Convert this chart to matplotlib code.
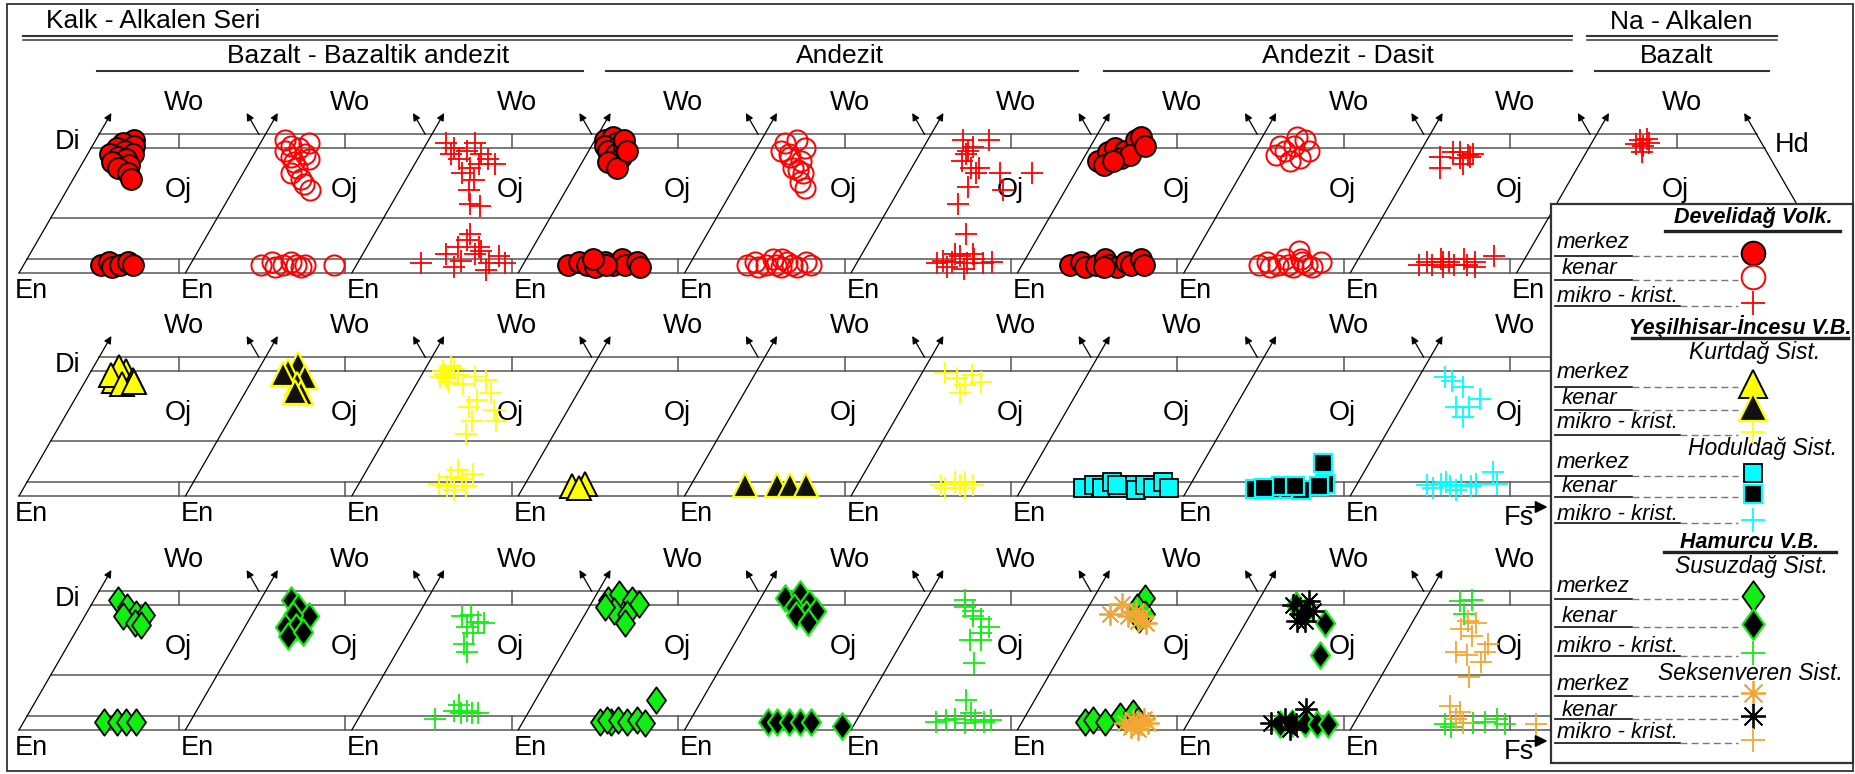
import numpy as np
import matplotlib.pyplot as plt
from matplotlib.path import Path
from matplotlib.patches import Rectangle

plt.rcParams['font.family'] = ['Liberation Sans', 'DejaVu Sans']

# ---------------------------------------------------------------------------
# pyroxene analyses as (Wo, Fs) mol %, one array per diagram
# row 0 : Develidag volcanics
dev_merkez_0 = [[48, 12], [47, 9], [46, 13], [45, 8], [44, 11], [43, 7], [43, 14], [42, 10], [41, 13], [40, 9],
                [39, 15], [38, 12], [36, 16], [34, 18],
                [3, 24], [4, 26], [2, 28], [3, 30], [4, 32], [3, 34]]
dev_kenar_1 = [[48, 7], [46, 10], [45, 13], [47, 15], [44, 9], [42, 12], [40, 14], [38, 16], [36, 15], [34, 19],
               [32, 21], [30, 24], [41, 18], [43, 16],
               [3, 22], [4, 25], [2, 27], [3, 29], [4, 31], [3, 33], [2, 35], [3, 36], [3, 45]]
dev_mikro_2 = [[45, 9.5], [44, 14], [47, 15], [43, 19], [41, 13], [38, 18], [39.5, 20], [36, 16.5], [41, 22],
               [43, 9.5], [33.5, 21.5], [30, 21.5], [25, 24.5], [24, 28], [39.5, 25], [47, 6],
               [3.5, 20], [7, 26], [9.5, 28.5], [12, 30], [7, 35], [8, 36.5], [4.5, 32], [3.5, 41], [6, 43],
               [2, 31], [14, 30], [1, 41.5], [3.5, 46], [9.5, 35]]
dev_merkez_3 = [[48, 3], [49, 5], [47, 7], [46, 4], [45, 8], [44, 6], [43, 9], [42, 11], [46, 10], [40, 8],
                [38, 12], [48, 9], [44, 12],
                [3, 14], [4, 17], [3, 20], [2, 23], [4, 25], [3, 28], [5, 30], [3, 32], [4, 35], [2, 37],
                [3, 26], [5, 21]]
dev_kenar_4 = [[47, 8], [48, 11], [45, 15], [42, 12], [40.5, 16], [38, 15], [36, 19], [30.5, 22.5], [33, 19.5],
               [44, 8], [43, 11], [37, 17],
               [3, 18], [4, 20], [2, 22], [3, 24], [5, 25], [3, 27], [2, 29], [4, 30], [3, 32], [2, 34],
               [4, 36], [3, 38], [5, 28]]
dev_mikro_5 = [[48, 11], [44, 14.5], [40.5, 14.5], [38, 18.5], [38, 21], [48, 19], [36, 28.5], [36, 38.5],
               [36, 21], [30, 32.5], [31, 21], [25, 21], [43, 14.5], [45.5, 15.5],
               [14, 29],
               [3.5, 25], [4.5, 26.5], [4, 29.5], [6, 31], [3.5, 34.5], [5, 36], [7, 34.5], [3.5, 39.5],
               [4, 42], [2, 29], [1.5, 34.5], [7, 29]]
dev_merkez_6 = [[40.5, 5], [43.5, 6.5], [45, 8], [44, 11.5], [48, 13], [49, 14], [41.5, 11.5], [42.5, 14],
                [39, 7.5], [40.5, 9.5], [46, 17],
                [3, 15], [4, 18], [2, 20], [3, 23], [5, 25], [3, 27], [2, 30], [4, 32], [3, 34], [5, 36],
                [3, 38], [2, 26]]
dev_kenar_7 = [[42.5, 7.5], [44, 9.5], [46, 11.5], [48, 14], [41.5, 15.5], [40.5, 13], [44, 17], [46, 7],
               [49, 11],
               [3, 22], [4, 24], [2, 26], [3, 28], [5, 29], [3, 31], [2, 33], [4, 35], [3, 37], [2, 39],
               [4, 41], [8, 32], [5, 34]]
dev_mikro_8 = [[42, 7], [43.5, 10.5], [42.5, 15.5], [42, 16.5], [39.5, 15.5], [38, 9], [41.5, 13.5], [43, 17],
               [43.5, 12.5],
               [3, 20], [4, 22], [3, 24], [5, 26], [2, 28], [4, 29], [3, 31], [5, 33], [3, 35], [4, 37],
               [2, 38], [6, 42], [4, 27]]
dev_mikro_9 = [[48, 14.5], [48.5, 16.5], [46, 16.5], [43.5, 17.5], [46.5, 14], [47, 18]]

# row 1 : Yesilhisar-Incesu (Kurtdag and Hoduldag systems)
kurt_merkez_0 = [[41.5, 9], [45, 11], [46.5, 8], [42, 14.5], [43.5, 7], [40.5, 12], [41, 15.5]]
kurt_kenar_1 = [[47.5, 11.5], [45, 9.5], [43, 16], [40.5, 14.5], [37, 17.5], [44, 8.5], [37.5, 15.5]]
kurt_mikro_2 = [[45, 6], [47, 7.5], [43.5, 11.5], [42.5, 8.5], [40.5, 14.5], [43, 17], [42, 21], [37, 25],
                [34.5, 22], [31, 29], [32, 20.5], [27, 24], [22.5, 24.5], [27, 31.5], [44, 7], [46, 9],
                [43, 6], [41, 10],
                [4.5, 25], [7, 27.5], [9.5, 28.5], [6, 31.5], [8, 34], [2, 31], [3.5, 28], [3.5, 34]]
kurt_merkez_3 = [[3.5, 15], [4.5, 18.5], [3, 17.5]]
kurt_kenar_4 = [[4, 17], [4, 27], [4, 31], [4, 36]]
kurt_mikro_5 = [[44.5, 7], [42.5, 12], [43.5, 16], [40, 15.5], [41, 20], [37, 15.5],
                [4, 26], [3, 28], [5, 30], [4, 32], [3, 34], [4, 36], [5, 33]]
hodul_merkez_6 = [[3, 19], [4, 22], [3, 25], [5, 27], [3, 30], [4, 33], [2, 36], [4, 38], [3, 41], [5, 43],
                  [3, 46], [4, 29]]
hodul_kenar_7 = [[2.5, 21], [2.5, 26.5], [2.5, 31.5], [2, 35.5], [12, 37.5], [4.5, 42], [3.5, 28.5],
                 [3, 23.5], [3.5, 33], [3.5, 40.5]]
hodul_mikro_8 = [[41.5, 11], [39.5, 15.5], [32, 17], [32, 21], [35, 23], [28.5, 21], [43, 8],
                 [4, 22], [4.5, 26], [3.5, 29.5], [4, 32.5], [3.5, 36], [4.5, 37], [8.5, 40.5], [4.5, 43.5],
                 [3, 24.5], [2, 32], [5, 27.5]]

# row 2 : Hamurcu (Susuzdag and Seksenveren systems)
susuz_merkez_0 = [[47, 7.5], [44.5, 11.5], [42, 15.5], [41.5, 18.5], [41, 12], [38.5, 17], [38, 19],
                  [3, 25], [3, 29], [3, 32], [3, 35]]
susuz_kenar_1 = [[47, 9.5], [44.5, 13], [41, 18], [41.5, 13], [37, 12.5], [37, 16], [34, 15], [35.5, 19]]
susuz_mikro_2 = [[41, 14], [41.5, 16.5], [39, 20], [37, 17.5], [35, 20.5], [31, 19.5], [28, 22], [38.5, 22],
                 [4, 24], [7, 28.5], [6, 31], [7, 32.5], [6, 34.5], [9, 29], [6, 36.5]]
susuz_merkez_3 = [[47, 4.5], [49, 7], [47, 12], [45.5, 15], [43, 8.5], [42, 13], [38.5, 14], [44.5, 5],
                  [3, 24], [3, 27.5], [3.5, 26], [3.5, 29.5], [3, 32.5], [3.5, 35.5], [2.5, 38.5], [11, 37.5]]
susuz_kenar_4 = [[47.5, 7.5], [49, 11.5], [46, 16], [44.5, 12], [42, 17], [43, 19.5], [41.5, 14], [39, 19],
                 [3, 24.5], [3, 27.5], [3, 31], [3, 34.5], [3, 38], [1.5, 48.5]]
susuz_mikro_5 = [[44.5, 13.5], [43, 16.5], [41, 17.5], [40, 20.5], [37, 24.5], [35, 23], [32.5, 21],
                 [32.5, 24.5], [24, 26.5], [47, 12],
                 [11, 30.5], [3, 25], [3.5, 28], [4, 30.5], [2.5, 34.5], [3.5, 37], [6, 34.5], [3.5, 42],
                 [3, 40]]
susuz_merkez_6 = [[47.5, 16], [44.5, 15], [42, 19], [40, 18],
                  [3, 19.5], [3.5, 22], [3, 26], [5, 29.5], [6, 33], [3.5, 36]]
seksen_merkez_6 = [[42, 8], [45.5, 10], [41, 14], [43, 15.5], [41, 18.5], [38.5, 21], [39.5, 18],
                   [2.5, 32.5], [3.5, 34.5], [2, 37.5], [4, 37.5], [2.5, 39.5], [1, 35], [0.5, 37.5]]
susuz_kenar_7 = [[38.5, 25], [27, 29], [45, 12.5], [42.5, 16.5],
                 [2, 29], [2.5, 32.5], [2.5, 36.5], [2, 40.5], [2, 44]]
seksen_kenar_7 = [[42, 15.5], [45, 11.5], [46.5, 16], [39.5, 18], [43, 19], [39.5, 15.5],
                  [2.5, 26], [4, 29.5], [2, 34], [7.5, 34.5], [0.5, 33]]
susuz_mikro_8 = [[46.5, 11], [47, 14.5], [42, 14.5],
                 [2, 28.5], [2.5, 37], [3, 40.5], [4, 44], [2, 47.5], [1, 31]]
seksen_mikro_8 = [[39.5, 17], [38.5, 20], [36.5, 16.5], [34, 21], [28, 19], [27, 23], [28, 28], [31, 27.5],
                  [24.5, 28.5], [19, 27.5],
                  [8.5, 27], [6.5, 31], [4, 31], [2.5, 34], [2, 57]]

# (symbol, row, diagram, data)
groups = [
    ('dev_merkez', 0, 0, dev_merkez_0), ('dev_kenar', 0, 1, dev_kenar_1), ('dev_mikro', 0, 2, dev_mikro_2),
    ('dev_merkez', 0, 3, dev_merkez_3), ('dev_kenar', 0, 4, dev_kenar_4), ('dev_mikro', 0, 5, dev_mikro_5),
    ('dev_merkez', 0, 6, dev_merkez_6), ('dev_kenar', 0, 7, dev_kenar_7), ('dev_mikro', 0, 8, dev_mikro_8),
    ('dev_mikro', 0, 9, dev_mikro_9),
    ('kurt_merkez', 1, 0, kurt_merkez_0), ('kurt_kenar', 1, 1, kurt_kenar_1), ('kurt_mikro', 1, 2, kurt_mikro_2),
    ('kurt_merkez', 1, 3, kurt_merkez_3), ('kurt_kenar', 1, 4, kurt_kenar_4), ('kurt_mikro', 1, 5, kurt_mikro_5),
    ('hodul_merkez', 1, 6, hodul_merkez_6), ('hodul_kenar', 1, 7, hodul_kenar_7),
    ('hodul_mikro', 1, 8, hodul_mikro_8),
    ('susuz_merkez', 2, 0, susuz_merkez_0), ('susuz_kenar', 2, 1, susuz_kenar_1),
    ('susuz_mikro', 2, 2, susuz_mikro_2), ('susuz_merkez', 2, 3, susuz_merkez_3),
    ('susuz_kenar', 2, 4, susuz_kenar_4), ('susuz_mikro', 2, 5, susuz_mikro_5),
    ('susuz_merkez', 2, 6, susuz_merkez_6), ('seksen_merkez', 2, 6, seksen_merkez_6),
    ('susuz_kenar', 2, 7, susuz_kenar_7), ('seksen_kenar', 2, 7, seksen_kenar_7),
    ('susuz_mikro', 2, 8, susuz_mikro_8), ('seksen_mikro', 2, 8, seksen_mikro_8),
]

series_names = ['Kalk - Alkalen Seri', 'Na - Alkalen']
rock_names = ['Bazalt - Bazaltik andezit', 'Andezit', 'Andezit - Dasit', 'Bazalt']
n_diagrams = [10, 9, 9]
wo_lines = [0, 5, 20, 45, 50]

# ---------------------------------------------------------------------------
RED, YEL, CYAN, GRN, ORG = '#ff0000', '#ffff00', '#00ffff', '#11ee11', '#f2a735'
diamond = Path([(0, 1), (0.72, 0), (0, -1), (-0.72, 0), (0, 1)],
               [Path.MOVETO, Path.LINETO, Path.LINETO, Path.LINETO, Path.CLOSEPOLY])
aster = (8, 2, 0)

styles = {
    'dev_merkez': dict(marker='o', ms=15, mfc=RED, mec='black', mew=1.4),
    'dev_kenar': dict(marker='o', ms=14.5, mfc='none', mec=RED, mew=1.4),
    'dev_mikro': dict(marker='+', ms=16, mec=RED, mew=1.3),
    'kurt_merkez': dict(marker='^', ms=17, mfc=YEL, mec='black', mew=1.4),
    'kurt_kenar': dict(marker='^', ms=17, mfc='#111111', mec=YEL, mew=1.6),
    'kurt_mikro': dict(marker='+', ms=16, mec=YEL, mew=1.3),
    'hodul_merkez': dict(marker='s', ms=12.5, mfc=CYAN, mec='black', mew=1.3),
    'hodul_kenar': dict(marker='s', ms=12.5, mfc='black', mec=CYAN, mew=1.6),
    'hodul_mikro': dict(marker='+', ms=16, mec=CYAN, mew=1.3),
    'susuz_merkez': dict(marker=diamond, ms=19, mfc=GRN, mec='black', mew=1.3),
    'susuz_kenar': dict(marker=diamond, ms=19, mfc='black', mec=GRN, mew=1.6),
    'susuz_mikro': dict(marker='+', ms=16, mec=GRN, mew=1.3),
    'seksen_merkez': dict(marker=aster, ms=16, mec=ORG, mew=1.3),
    'seksen_kenar': dict(marker=aster, ms=16, mec='black', mew=1.3),
    'seksen_mikro': dict(marker='+', ms=16, mec=ORG, mew=1.3),
}

# triangle geometry in sheet pixels
SIDE, STEP, LEFT = 320.0, 166.4, 19.0
BASE = [273, 496, 730]
K = SIDE * np.sqrt(3) / 200
TIP = 160 / K


def tri(row, col, wo, fs):
    wo = np.asarray(wo, float)
    fs = np.asarray(fs, float)
    return LEFT + STEP * col + SIDE * (fs + wo / 2) / 100, BASE[row] - K * wo


W, H = 1856, 774
fig = plt.figure(figsize=(W / 100, H / 100), dpi=100)
ax = fig.add_axes([0, 0, 1, 1])
ax.set_xlim(0, W)
ax.set_ylim(H, 0)
ax.axis('off')

GRID = '#555555'
arrow = dict(arrowstyle='-|>', color='black', lw=0.9, mutation_scale=11, shrinkA=0, shrinkB=0)
lab = dict(fontsize=19.5, ha='center', va='center')

for r, n in enumerate(n_diagrams):
    last = n - 1
    for wo in wo_lines:
        x1, y1 = tri(r, 0, wo, 0)
        x2, _ = tri(r, last, wo, 100 - wo)
        ax.plot([x1, x2], [y1, y1], color=GRID, lw=1.1, zorder=1)
    for c in range(n):
        for a, b in ((0, 5), (45, 50)):
            xa, ya = tri(r, c, a, 50 - a / 2)
            _, yb = tri(r, c, b, 50 - b / 2)
            ax.plot([xa, xa], [ya, yb], color=GRID, lw=1.1, zorder=1)
        xs, ys = tri(r, c, 0, 0)
        xt, yt = tri(r, c, TIP, 0)
        ax.annotate('', xy=(xt, yt), xytext=(xs, ys), arrowprops=arrow, zorder=2)
        if r == 0 and c == last:
            xh, yh = tri(r, c, 0, 100)
        else:
            xh, yh = tri(r, c, 50, 50)
        xt, yt = tri(r, c, TIP, 100 - TIP)
        ax.annotate('', xy=(xt, yt), xytext=(xh, yh), arrowprops=arrow, zorder=2)

        x0 = LEFT + STEP * c
        ax.text(x0 + 165, BASE[r] - 170, 'Wo', **lab)
        ax.text(x0 + 159, BASE[r] - 83, 'Oj', **lab)
        ax.text(x0 + 12, BASE[r] + 18, 'En', **lab)
    ax.text(68, BASE[r] - 131, 'Di', **lab)
    if r > 0:
        xf = LEFT + STEP * n
        ax.text(xf + 2, BASE[r] + 22, 'Fs', **lab)
        ax.annotate('', xy=(xf + 31, BASE[r] + 11), xytext=(xf + 10, BASE[r] + 11),
                    arrowprops=dict(arrowstyle='-|>', color='black', lw=1.3, mutation_scale=18,
                                    shrinkA=0, shrinkB=0))
ax.text(1792, 145, 'Hd', **lab)

for key, r, c, pts in groups:
    pts = np.asarray(pts, float)
    x, y = tri(r, c, pts[:, 0], pts[:, 1])
    ax.plot(x, y, ls='none', zorder=5, **styles[key])

# header lines and titles
HEAD = '#333333'
ax.text(46, 21, series_names[0], fontsize=19, va='center')
ax.text(1681, 22, series_names[1], fontsize=19, ha='center', va='center')
for x1, x2 in ((23, 1572), (1587, 1777)):
    ax.plot([x1, x2], [35.7, 35.7], color=HEAD, lw=1.5)
    ax.plot([x1, x2], [40, 40], color=HEAD, lw=1.1)
for name, cx, (x1, x2) in zip(rock_names, (368, 840, 1348, 1677),
                              ((97, 583), (606, 1078), (1104, 1572), (1595, 1769))):
    ax.text(cx, 56, name, fontsize=19, ha='center', va='center')
    ax.plot([x1, x2], [71, 71], color=HEAD, lw=1.5)

ax.add_patch(Rectangle((7, 4), 1846, 767, fill=False, ec=HEAD, lw=1.3, zorder=30))

# legend box
ax.add_patch(Rectangle((1551, 204), 302, 559, fc='white', ec=HEAD, lw=1.6, zorder=20))
LZ = 21
MX = 1753
legend_ms = {'o': 17, '^': 20, 's': 13.5, '+': 17}


def head(text, y, yl, x1, x2, cx):
    ax.text(cx, y, text, fontsize=15.5, fontweight='bold', fontstyle='italic', ha='center', va='center',
            zorder=LZ)
    ax.plot([x1, x2], [yl, yl], color='#222222', lw=2.4, zorder=LZ)


def sub(text, y, cx):
    ax.text(cx, y, text, fontsize=16.5, fontstyle='italic', ha='center', va='center', zorder=LZ)


def item(text, y, yl, key):
    x_end = 1680 if text.startswith('mikro') else 1632
    ax.text(1557 if text != 'kenar' else 1562, y, text, fontsize=16, fontstyle='italic', va='center',
            zorder=LZ)
    ax.plot([1555, x_end], [yl, yl], color='#222222', lw=1.3, zorder=LZ)
    ax.plot([x_end, 1738], [yl, yl], color='#777777', lw=1.0, dashes=(5, 3), zorder=LZ)
    st = dict(styles[key])
    st['ms'] = legend_ms.get(st['marker'], 22) if isinstance(st['marker'], str) else 22
    if st['marker'] == aster:
        st['ms'] = 18
    ax.plot([MX], [yl - 3], ls='none', zorder=LZ + 1, **st)


head('Develidağ Volk.', 217, 231, 1665, 1840, 1753)
item('merkez', 243, 256, 'dev_merkez')
item('kenar', 269, 280, 'dev_kenar')
item('mikro - krist.', 296, 306, 'dev_mikro')
head('Yeşilhisar-İncesu V.B.', 327, 338, 1632, 1848, 1740)
sub('Kurtdağ Sist.', 352, 1755)
item('merkez', 373, 387, 'kurt_merkez')
item('kenar', 399, 410, 'kurt_kenar')
item('mikro - krist.', 423, 435, 'kurt_mikro')
sub('Hoduldağ Sist.', 448, 1763)
item('merkez', 463, 476, 'hodul_merkez')
item('kenar', 487, 497, 'hodul_kenar')
item('mikro - krist.', 514, 523, 'hodul_mikro')
head('Hamurcu V.B.', 542, 552, 1664, 1836, 1750)
sub('Susuzdağ Sist.', 566, 1752)
item('merkez', 587, 599, 'susuz_merkez')
item('kenar', 616, 627, 'susuz_kenar')
item('mikro - krist.', 646, 656, 'susuz_mikro')
sub('Seksenveren Sist.', 673, 1750)
item('merkez', 684, 696, 'seksen_merkez')
item('kenar', 710, 719, 'seksen_kenar')
item('mikro - krist.', 733, 743, 'seksen_mikro')

fig.savefig('out.png', dpi=100)
